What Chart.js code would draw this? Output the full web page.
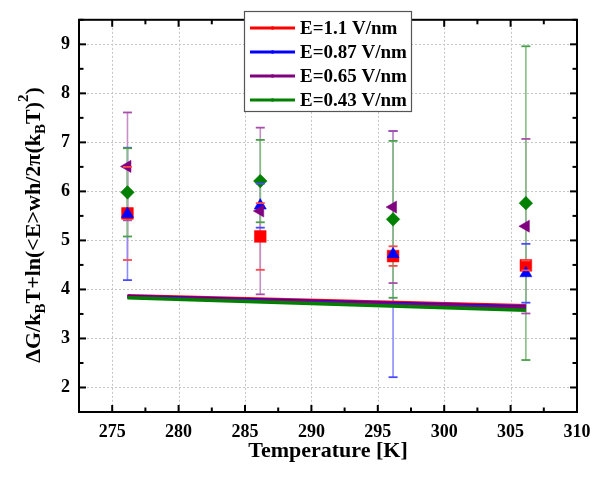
<!DOCTYPE html>
<html><head><meta charset="utf-8">
<script src="https://cdn.jsdelivr.net/npm/chart.js@4.4.0/dist/chart.umd.min.js"></script>
<style>html,body{margin:0;padding:0;background:#fff;}#wrap{width:602px;height:479px;position:relative;}</style>
</head><body><div id="wrap"><canvas id="c" width="602" height="479"></canvas></div>
<script>
// ---- data ----
const temperatures = [276.15, 286.15, 296.15, 306.15];
const seriesLabels = ['E=1.1 V/nm', 'E=0.87 V/nm', 'E=0.65 V/nm', 'E=0.43 V/nm'];
const valuesE110 = [5.55, 5.08, 4.68, 4.49];
const errorsE110 = [0.95, 0.68, 0.20, 0.10];
const valuesE087 = [5.54, 5.71, 4.72, 4.33];
const errorsE087 = [1.35, 0.45, 2.51, 0.60];
const valuesE065 = [6.51, 5.60, 5.68, 5.29];
const errorsE065 = [1.10, 1.70, 1.55, 1.78];
const valuesE043 = [5.98, 6.21, 5.43, 5.76];
const errorsE043 = [0.90, 0.84, 1.60, 3.20];
// fit lines: values at first and last temperature
const fitE110 = [3.870, 3.665];
const fitE087 = [3.858, 3.640];
const fitE065 = [3.845, 3.620];
const fitE043 = [3.830, 3.575];
const xTickValues = [275, 280, 285, 290, 295, 300, 305, 310];
const yTickValues = [2, 3, 4, 5, 6, 7, 8, 9];
const xTitle = 'Temperature [K]';
const yTitleParts = [['\u0394G/k', 'n'], ['B', 'sub'], ['T+ln(<E>wh/2\u03c0(k', 'n'], ['B', 'sub'], ['T)', 'n'], ['2', 'sup'], [')', 'n']];

// ---- styles ----
const colors = ['#ff0000', '#0000ff', '#800080', '#008000'];
const stemColors = ['#ff8c8c', '#8c8cff', '#c590c5', '#84c084'];
const capColors = ['#ff4a4a', '#4a4aff', '#a850a8', '#48a048'];
const styles = [
  {pointStyle: 'rect', radius: 8.3, rotation: 0},
  {pointStyle: 'triangle', radius: 7, rotation: 0},
  {pointStyle: 'triangle', radius: 7, rotation: -90},
  {pointStyle: 'rectRot', radius: 6.8, rotation: 0}
];
const allValues = [valuesE110, valuesE087, valuesE065, valuesE043];
const allErrors = [errorsE110, errorsE087, errorsE065, errorsE043];
const allFits = [fitE110, fitE087, fitE065, fitE043];
const FONT = "'Liberation Serif', 'Times New Roman', serif";

const datasets = [];
allValues.forEach((vals, k) => {
  datasets.push({
    label: seriesLabels[k],
    data: temperatures.map((t, i) => ({x: t, y: vals[i]})),
    backgroundColor: colors[k], borderColor: colors[k], borderWidth: 0.5,
    pointStyle: styles[k].pointStyle, pointRadius: styles[k].radius,
    rotation: styles[k].rotation, showLine: false, order: 4 - k
  });
});
allFits.forEach((fit, k) => {
  datasets.push({
    label: seriesLabels[k] + ' fit',
    data: [{x: temperatures[0], y: fit[0]}, {x: temperatures[temperatures.length - 1], y: fit[1]}],
    borderColor: colors[k], backgroundColor: colors[k], borderWidth: 3.5,
    pointRadius: 0, showLine: true, order: 20 - k
  });
});

function errGeom(chart, k, i) {
  const xs = chart.scales.x, ys = chart.scales.y;
  const x = xs.getPixelForValue(temperatures[i]);
  const v = allValues[k][i], e = allErrors[k][i];
  return {x, y1: ys.getPixelForValue(v + e), y2: ys.getPixelForValue(v - e)};
}

const customDraw = {
  id: 'customDraw',
  beforeDatasetsDraw(chart) {
    const {ctx, chartArea: a, scales: {x: xs, y: ys}} = chart;
    ctx.save();
    ctx.strokeStyle = '#c4c4c4'; ctx.lineWidth = 1; ctx.setLineDash([2, 2]);
    xTickValues.forEach(v => {
      const px = Math.round(xs.getPixelForValue(v)) + 0.5;
      if (px > a.left + 2 && px < a.right - 2) { ctx.beginPath(); ctx.moveTo(px, a.top); ctx.lineTo(px, a.bottom); ctx.stroke(); }
    });
    yTickValues.forEach(v => {
      const py = Math.round(ys.getPixelForValue(v)) + 0.5;
      if (py > a.top + 2 && py < a.bottom - 2) { ctx.beginPath(); ctx.moveTo(a.left, py); ctx.lineTo(a.right, py); ctx.stroke(); }
    });
    ctx.setLineDash([]);
    ctx.lineWidth = 1.6;
    for (let k = 0; k < allValues.length; k++) {
      ctx.strokeStyle = stemColors[k];
      for (let i = 0; i < temperatures.length; i++) {
        const g = errGeom(chart, k, i);
        ctx.beginPath(); ctx.moveTo(g.x, g.y1); ctx.lineTo(g.x, g.y2); ctx.stroke();
      }
    }
    ctx.restore();
  },
  afterDatasetsDraw(chart) {
    const {ctx, chartArea: a, scales: {x: xs, y: ys}} = chart;
    ctx.save();
    ctx.lineWidth = 1.8;
    for (let k = 0; k < allValues.length; k++) {
      ctx.strokeStyle = capColors[k];
      for (let i = 0; i < temperatures.length; i++) {
        const g = errGeom(chart, k, i);
        [g.y1, g.y2].forEach(y => { ctx.beginPath(); ctx.moveTo(g.x - 4.5, y); ctx.lineTo(g.x + 4.5, y); ctx.stroke(); });
      }
    }
    ctx.strokeStyle = '#000'; ctx.lineWidth = 2;
    ctx.strokeRect(a.left, a.top, a.right - a.left, a.bottom - a.top);
    const xMaj = 7, xMin = 4.5;
    for (let v = 272.5; v <= 310.001; v += 2.5) {
      const px = xs.getPixelForValue(v);
      const len = (Math.abs(v / 5 - Math.round(v / 5)) < 1e-6) ? xMaj : xMin;
      ctx.beginPath(); ctx.moveTo(px, a.bottom); ctx.lineTo(px, a.bottom - len); ctx.stroke();
      ctx.beginPath(); ctx.moveTo(px, a.top); ctx.lineTo(px, a.top + len); ctx.stroke();
    }
    for (let v = 1.5; v <= 9.501; v += 0.5) {
      const py = ys.getPixelForValue(v);
      const len = (Math.abs(v - Math.round(v)) < 1e-6) ? xMaj : xMin;
      ctx.beginPath(); ctx.moveTo(a.left, py); ctx.lineTo(a.left + len, py); ctx.stroke();
      ctx.beginPath(); ctx.moveTo(a.right, py); ctx.lineTo(a.right - len, py); ctx.stroke();
    }
    const lx = 244, ly = 11, lw = 167, lh = 100;
    ctx.fillStyle = '#fff'; ctx.fillRect(lx, ly, lw, lh);
    ctx.strokeStyle = '#555'; ctx.lineWidth = 1.2; ctx.strokeRect(lx + 0.5, ly + 0.5, lw, lh);
    ctx.font = 'bold 19px ' + FONT; ctx.textBaseline = 'middle'; ctx.textAlign = 'left';
    seriesLabels.forEach((lab, k) => {
      const yy = ly + 17 + k * 24;
      ctx.strokeStyle = colors[k]; ctx.lineWidth = 3;
      ctx.beginPath(); ctx.moveTo(lx + 6, yy); ctx.lineTo(lx + 51, yy); ctx.stroke();
      ctx.fillStyle = colors[k]; ctx.beginPath(); ctx.arc(lx + 28.5, yy, 1.8, 0, Math.PI * 2); ctx.fill();
      ctx.fillStyle = '#000'; ctx.fillText(lab, lx + 56, yy + 1);
    });
    ctx.restore();
  },
  afterDraw(chart) {
    const {ctx} = chart;
    ctx.save();
    const mainF = 'bold 22px ' + FONT, smallF = 'bold 15px ' + FONT;
    let total = 0;
    yTitleParts.forEach(([t, s]) => { ctx.font = s === 'n' ? mainF : smallF; total += ctx.measureText(t).width; });
    ctx.translate(40, 225);
    ctx.rotate(-Math.PI / 2);
    ctx.fillStyle = '#000'; ctx.textBaseline = 'alphabetic'; ctx.textAlign = 'left';
    let cx = -total / 2;
    yTitleParts.forEach(([t, s]) => {
      ctx.font = s === 'n' ? mainF : smallF;
      const dy = s === 'sub' ? 5 : (s === 'sup' ? -12 : 0);
      ctx.fillText(t, cx, dy);
      cx += ctx.measureText(t).width;
    });
    ctx.restore();
  }
};

new Chart(document.getElementById('c'), {
  type: 'scatter',
  data: {datasets},
  options: {
    responsive: false, animation: false, devicePixelRatio: 1,
    layout: {padding: {top: 10, right: 25, left: 0, bottom: 0}},
    plugins: {legend: {display: false}, tooltip: {enabled: false}},
    scales: {
      x: {
        type: 'linear', min: 272.5, max: 310,
        afterBuildTicks: s => { s.ticks = xTickValues.map(v => ({value: v})); },
        afterFit: s => { s.height = 67; },
        grid: {display: false, drawTicks: false}, border: {display: false},
        ticks: {padding: 10, color: '#000', font: {family: FONT, size: 18, weight: 'bold'}, maxRotation: 0, autoSkip: false},
        title: {display: true, text: xTitle, color: '#000', font: {family: FONT, size: 22, weight: 'bold'}, padding: {top: 0, bottom: 14}}
      },
      y: {
        type: 'linear', min: 1.5, max: 9.5,
        afterBuildTicks: s => { s.ticks = yTickValues.map(v => ({value: v})); },
        afterFit: s => { s.width = 79; },
        grid: {display: false, drawTicks: false}, border: {display: false},
        ticks: {padding: 9, color: '#000', font: {family: FONT, size: 18, weight: 'bold'}, autoSkip: false}
      }
    }
  },
  plugins: [customDraw]
});
</script></body></html>
